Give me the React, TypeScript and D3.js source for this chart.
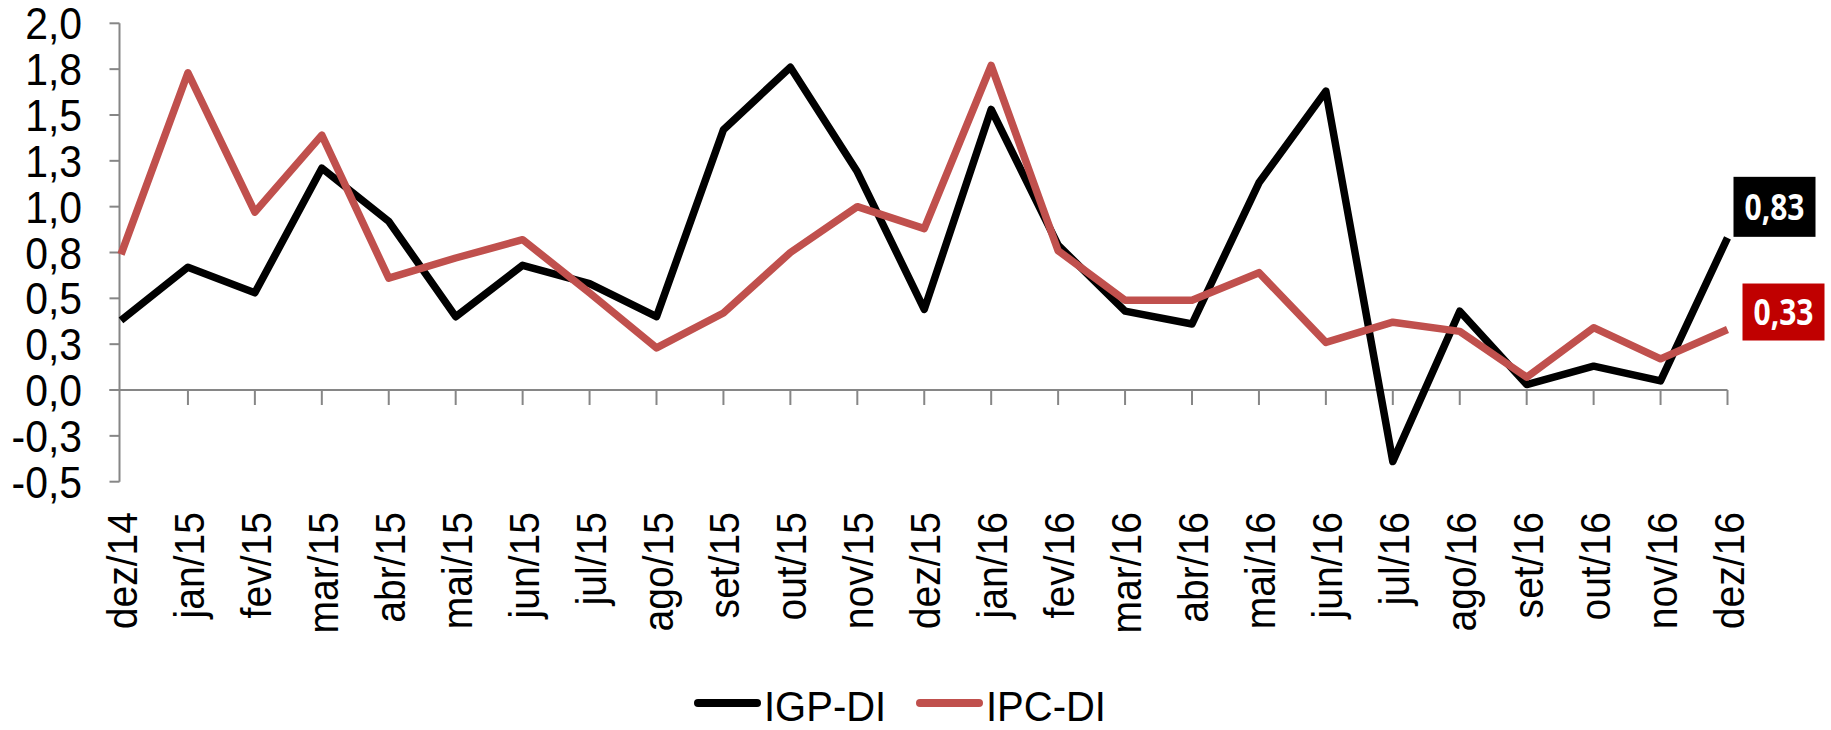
import React from "react";
import * as d3 from "d3";

const categories = [
  "dez/14", "jan/15", "fev/15", "mar/15", "abr/15", "mai/15", "jun/15", "jul/15", "ago/15",
  "set/15", "out/15", "nov/15", "dez/15", "jan/16", "fev/16", "mar/16", "abr/16", "mai/16",
  "jun/16", "jul/16", "ago/16", "set/16", "out/16", "nov/16", "dez/16",
];
const igpDi = [
  0.38, 0.67, 0.53, 1.21, 0.92, 0.40, 0.68, 0.58, 0.40, 1.42, 1.76, 1.19, 0.44,
  1.53, 0.79, 0.43, 0.36, 1.13, 1.63, -0.39, 0.43, 0.03, 0.13, 0.05, 0.83,
];
const ipcDi = [
  0.74, 1.73, 0.97, 1.39, 0.61, 0.72, 0.82, 0.53, 0.23, 0.42, 0.75, 1.00, 0.88,
  1.77, 0.76, 0.49, 0.49, 0.64, 0.26, 0.37, 0.32, 0.07, 0.34, 0.17, 0.33,
];
const yTicks = [-0.5, -0.25, 0, 0.25, 0.5, 0.75, 1.0, 1.25, 1.5, 1.75, 2.0];
const yTickLabels = ["-0,5", "-0,3", "0,0", "0,3", "0,5", "0,8", "1,0", "1,3", "1,5", "1,8", "2,0"];
const seriesNames = ["IGP-DI", "IPC-DI"];
const lastLabels = ["0,83", "0,33"];

const W = 1831;
const H = 730;
const AXIS = "#868686";
const COLORS = ["#000000", "#C0504D"];
const BOX = ["#000000", "#C00000"];
const FONT = "'Liberation Sans', Arial, sans-serif";
const SX = 0.93;

export default function App() {
  const x = d3.scalePoint<string>().domain(categories).range([121, 1727.5]);
  const y = d3.scaleLinear().domain([-0.5, 2.0]).range([481.7, 23.3]);
  const line = d3
    .line<number>()
    .x((_, i) => x(categories[i]) as number)
    .y((d) => y(d));
  const series = [igpDi, ipcDi];
  const axisX = 119.5;
  const lastX = x(categories[categories.length - 1]) as number;

  const boxes = [
    { dx: 6, dy: -61, w: 82, h: 60 },
    { dx: 15, dy: -46, w: 82, h: 57 },
  ];

  return (
    <svg
      width={W}
      height={H}
      style={{ position: "absolute", left: 0, top: 0, background: "#fff" }}
      fontFamily={FONT}
    >
      <line x1={axisX} x2={axisX} y1={y(2.0)} y2={y(-0.5)} stroke={AXIS} strokeWidth={2} />
      {yTicks.map((t, i) => (
        <g key={t}>
          <line x1={axisX - 10} x2={axisX} y1={y(t)} y2={y(t)} stroke={AXIS} strokeWidth={2} />
          <text
            transform={`translate(82,${y(t) + 16}) scale(${SX},1)`}
            textAnchor="end"
            fontSize={44}
            fill="#000"
          >
            {yTickLabels[i]}
          </text>
        </g>
      ))}
      <line x1={axisX - 10} x2={lastX} y1={y(0)} y2={y(0)} stroke={AXIS} strokeWidth={2} />
      {categories.map((c) => (
        <g key={c}>
          {c !== categories[0] && (
            <line
              x1={x(c) as number}
              x2={x(c) as number}
              y1={y(0)}
              y2={y(0) + 15}
              stroke={AXIS}
              strokeWidth={2}
            />
          )}
          <text
            transform={`translate(${(x(c) as number) + 16},512) rotate(-90) scale(${SX},1)`}
            textAnchor="end"
            fontSize={42}
            fill="#000"
          >
            {c}
          </text>
        </g>
      ))}
      {series.map((s, i) => (
        <path
          key={i}
          d={line(s) as string}
          fill="none"
          stroke={COLORS[i]}
          strokeWidth={7.5}
          strokeLinejoin="round"
        />
      ))}
      {series.map((s, i) => {
        const px = lastX + boxes[i].dx;
        const py = y(s[s.length - 1]) + boxes[i].dy;
        return (
          <g key={"lab" + i}>
            <rect x={px} y={py} width={boxes[i].w} height={boxes[i].h} fill={BOX[i]} />
            <text
              x={px + boxes[i].w / 2}
              y={py + boxes[i].h / 2 + 13}
              textAnchor="middle"
              fontFamily="'Open Sans', sans-serif"
              fontWeight="bold"
              fontSize={36}
              fill="#fff"
              textLength={60}
              lengthAdjust="spacingAndGlyphs"
            >
              {lastLabels[i]}
            </text>
          </g>
        );
      })}
      {seriesNames.map((n, i) => {
        const lx = [695, 917][i];
        return (
          <g key={n}>
            <line
              x1={lx + 3}
              x2={lx + 62}
              y1={703}
              y2={703}
              stroke={COLORS[i]}
              strokeWidth={8}
              strokeLinecap="round"
            />
            <text
              transform={`translate(${lx + 69},721) scale(${SX},1)`}
              fontSize={43}
              fill="#000"
            >
              {n}
            </text>
          </g>
        );
      })}
    </svg>
  );
}
